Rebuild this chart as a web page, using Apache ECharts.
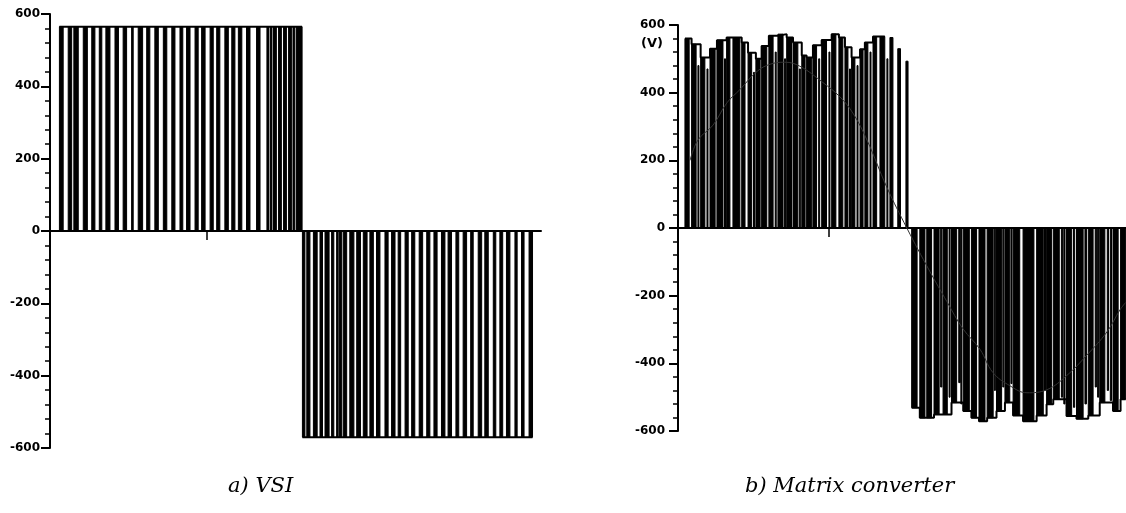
<!DOCTYPE html>
<html>
<head>
<meta charset="utf-8">
<script src="https://cdn.jsdelivr.net/npm/echarts@6/dist/echarts.min.js"></script>
<style>
  html, body { margin: 0; padding: 0; background: #fff; }
  #chart { width: 1126px; height: 513px; }
</style>
</head>
<body>
<div id="chart"></div>
<script>
// time in ms, voltage in V

// a) VSI: pulse [start, end] at the dc level
var vsiPosLevel = 565;
var vsiNegLevel = -570;
var vsiPosPulses = [
  [0.30, 0.42], [0.58, 0.69], [0.76, 0.90], [1.06, 1.19], [1.33, 1.43],
  [1.57, 1.65], [1.78, 1.91], [2.07, 2.18], [2.33, 2.44], [2.60, 2.65],
  [2.81, 2.95], [3.08, 3.18], [3.34, 3.45], [3.61, 3.72], [3.88, 3.98],
  [4.14, 4.23], [4.35, 4.46], [4.62, 4.72], [4.83, 4.94], [5.10, 5.20],
  [5.31, 5.41], [5.57, 5.68], [5.79, 5.89], [6.00, 6.11], [6.26, 6.37],
  [6.58, 6.69], [6.91, 6.96], [7.01, 7.07], [7.12, 7.21], [7.28, 7.37],
  [7.44, 7.53], [7.60, 7.69], [7.74, 7.80], [7.85, 8.03]
];
var vsiNegPulses = [
  [8.04, 8.12], [8.18, 8.28], [8.39, 8.51], [8.60, 8.68], [8.76, 8.89],
  [8.97, 9.04], [9.13, 9.18], [9.22, 9.29], [9.34, 9.45], [9.55, 9.68],
  [9.77, 9.89], [9.98, 10.10], [10.19, 10.30], [10.40, 10.51], [10.67, 10.77],
  [10.88, 10.99], [11.09, 11.17], [11.31, 11.41], [11.52, 11.62], [11.76, 11.87],
  [12.00, 12.10], [12.23, 12.33], [12.47, 12.58], [12.68, 12.79], [12.93, 13.02],
  [13.16, 13.27], [13.40, 13.48], [13.64, 13.75], [13.85, 13.96], [14.12, 14.20],
  [14.33, 14.42], [14.54, 14.65], [14.81, 14.88], [15.02, 15.10], [15.26, 15.37]
];

// b) Matrix converter: pulse [start, end, level]
var mcPosPulses = [
  [0.23, 0.37, 560], [0.45, 0.60, 543], [0.75, 0.89, 504], [1.06, 1.23, 530],
  [1.29, 1.49, 555], [1.61, 1.72, 563], [1.82, 2.05, 563], [2.11, 2.22, 548],
  [2.32, 2.44, 518], [2.58, 2.72, 500], [2.77, 2.94, 538], [3.01, 3.15, 568],
  [3.31, 3.48, 573], [3.60, 3.76, 563], [3.81, 3.97, 548], [4.10, 4.21, 510],
  [4.26, 4.43, 504], [4.47, 4.59, 540], [4.76, 4.92, 556], [5.09, 5.23, 573],
  [5.33, 5.46, 563], [5.53, 5.63, 534], [5.75, 5.86, 504], [6.03, 6.13, 528],
  [6.19, 6.29, 548], [6.46, 6.58, 566], [6.69, 6.85, 566], [7.02, 7.12, 563],
  [7.28, 7.37, 530], [7.55, 7.62, 493]
];
var mcNegPulses = [
  [7.74, 7.92, -531], [8.01, 8.18, -561], [8.24, 8.40, -561], [8.48, 8.65, -551],
  [8.78, 8.92, -551], [9.06, 9.23, -516], [9.45, 9.65, -541], [9.72, 9.89, -561],
  [9.97, 10.17, -571], [10.24, 10.44, -561], [10.55, 10.72, -541], [10.83, 10.99, -516],
  [11.10, 11.32, -554], [11.43, 11.79, -571], [11.88, 12.10, -554], [12.21, 12.37, -521],
  [12.43, 12.63, -506], [12.87, 13.04, -556], [13.20, 13.42, -564], [13.59, 13.75, -554],
  [13.97, 14.14, -516], [14.41, 14.58, -541], [14.66, 14.83, -506]
];
// narrow pulses at the middle input level, between the main ones
var mcPosInner = [
  [0.66, 0.69, 480], [0.96, 0.99, 470], [1.54, 1.57, 500], [2.50, 2.53, 460],
  [3.22, 3.25, 520], [3.53, 3.56, 500], [4.02, 4.05, 470], [4.66, 4.69, 500],
  [5.00, 5.03, 520], [5.68, 5.71, 470], [5.93, 5.96, 480], [6.36, 6.39, 520],
  [6.92, 6.95, 500]
];
var mcNegInner = [
  [8.70, 8.74, -470], [8.98, 9.01, -500], [9.30, 9.35, -457], [9.37, 9.40, -520],
  [10.48, 10.51, -480], [10.76, 10.79, -470], [11.03, 11.06, -460], [12.14, 12.17, -480],
  [12.70, 12.74, -500], [12.78, 12.82, -520], [13.10, 13.14, -530], [13.48, 13.53, -520],
  [13.82, 13.86, -470], [13.90, 13.93, -500], [14.22, 14.26, -480], [14.32, 14.36, -510]
];
// pulses in the tail of the positive half stand alone (no top line)
var mcPosJoined = 27;

// filtered fundamental of the matrix converter output
var mcFundT = [0.40, 0.66, 1.16, 1.62, 2.05, 2.62, 3.05, 3.54, 4.04, 4.80, 5.36, 5.79,
  6.26, 6.92, 7.58, 8.34, 8.91, 9.44, 10.00, 10.43, 10.99, 11.56, 12.22, 12.88,
  13.54, 14.21, 14.64, 14.83];
var mcFundV = [200, 260, 304, 370, 409, 463, 484, 490, 478, 430, 388, 340,
  260, 120, 0, -128, -218, -298, -358, -427, -466, -487, -478, -436,
  -376, -307, -242, -220];

var captions = ['a) VSI', 'b) Matrix converter'];

var chart = echarts.init(document.getElementById('chart'), null, { renderer: 'canvas' });

function withLevel(pulses, level) {
  return pulses.map(function(p) { return [p[0], p[1], level]; });
}

function stepLine(pulses) {
  var pts = [];
  pulses.forEach(function(p) { pts.push([p[0], p[2]]); });
  var last = pulses[pulses.length - 1];
  pts.push([last[1], last[2]]);
  return pts;
}

function renderPulse(params, api) {
  var top = api.coord([api.value(0), api.value(2)]);
  var bottom = api.coord([api.value(1), 0]);
  var x = Math.min(top[0], bottom[0]);
  var y = Math.min(top[1], bottom[1]);
  return {
    type: 'rect',
    shape: {
      x: x,
      y: y,
      width: Math.max(1, Math.abs(bottom[0] - top[0])),
      height: Math.abs(bottom[1] - top[1])
    },
    style: { fill: '#000', stroke: '#000', lineWidth: 1 }
  };
}

function yAxisFor(gridIndex, labelMargin) {
  return {
    type: 'value',
    gridIndex: gridIndex,
    min: -600,
    max: 600,
    interval: 200,
    splitLine: { show: false },
    axisLine: { show: true, lineStyle: { color: '#000', width: 2 } },
    axisTick: { show: true, length: 9, lineStyle: { color: '#000', width: 2 } },
    minorTick: { show: true, splitNumber: 5, length: 5, lineStyle: { color: '#000', width: 1.5 } },
    axisLabel: {
      color: '#000',
      fontFamily: 'DejaVu Sans, sans-serif',
      fontWeight: 'bold',
      fontSize: 12,
      margin: labelMargin
    }
  };
}

function xAxisFor(gridIndex, max) {
  return {
    type: 'value',
    gridIndex: gridIndex,
    min: 0,
    max: max,
    interval: 5,
    splitLine: { show: false },
    axisLine: { show: true, onZero: true, lineStyle: { color: '#000', width: 2 } },
    axisTick: { show: true, customValues: [5], length: 9, lineStyle: { color: '#000', width: 1.5 } },
    axisLabel: { show: false }
  };
}

var allA = withLevel(vsiPosPulses, vsiPosLevel).concat(withLevel(vsiNegPulses, vsiNegLevel));
var allB = mcPosPulses.concat(mcNegPulses);
var innerB = mcPosInner.concat(mcNegInner);

var option = {
  backgroundColor: '#fff',
  animation: false,
  grid: [
    { left: 50, top: 14, width: 491, height: 434 },
    { left: 678, top: 25, width: 448, height: 406 }
  ],
  xAxis: [xAxisFor(0, 15.64), xAxisFor(1, 14.84)],
  yAxis: [yAxisFor(0, 10), yAxisFor(1, 13)],
  graphic: [
    {
      type: 'text', left: 228, top: 476,
      style: { text: captions[0], fill: '#000', font: 'italic 21px "DejaVu Serif", serif' }
    },
    {
      type: 'text', left: 745, top: 476,
      style: { text: captions[1], fill: '#000', font: 'italic 21px "DejaVu Serif", serif' }
    },
    {
      type: 'text', left: 641, top: 37,
      style: { text: '(V)', fill: '#000', font: 'bold 13px "DejaVu Sans", sans-serif' }
    }
  ],
  series: [
    {
      type: 'custom', xAxisIndex: 0, yAxisIndex: 0,
      renderItem: renderPulse, encode: { x: [0, 1], y: 2 },
      data: allA, z: 3
    },
    {
      type: 'line', xAxisIndex: 0, yAxisIndex: 0, symbol: 'none',
      lineStyle: { color: '#000', width: 2 },
      data: [[vsiPosPulses[0][0], vsiPosLevel], [vsiPosPulses[vsiPosPulses.length - 1][1], vsiPosLevel]]
    },
    {
      type: 'line', xAxisIndex: 0, yAxisIndex: 0, symbol: 'none',
      lineStyle: { color: '#000', width: 2 },
      data: [[vsiNegPulses[0][0], vsiNegLevel], [vsiNegPulses[vsiNegPulses.length - 1][1], vsiNegLevel]]
    },
    {
      type: 'custom', xAxisIndex: 1, yAxisIndex: 1,
      renderItem: renderPulse, encode: { x: [0, 1], y: 2 },
      data: allB, z: 3
    },
    {
      type: 'custom', xAxisIndex: 1, yAxisIndex: 1,
      renderItem: renderPulse, encode: { x: [0, 1], y: 2 },
      data: innerB, z: 3
    },
    {
      type: 'line', xAxisIndex: 1, yAxisIndex: 1, symbol: 'none', step: 'end',
      lineStyle: { color: '#000', width: 2 },
      data: stepLine(mcPosPulses.slice(0, mcPosJoined))
    },
    {
      type: 'line', xAxisIndex: 1, yAxisIndex: 1, symbol: 'none', step: 'end',
      lineStyle: { color: '#000', width: 2 },
      data: stepLine(mcNegPulses)
    },
    {
      type: 'line', xAxisIndex: 1, yAxisIndex: 1, symbol: 'none', smooth: 0.4,
      lineStyle: { color: '#333', width: 1 }, z: 4,
      data: mcFundT.map(function(t, i) { return [t, mcFundV[i]]; })
    }
  ]
};

chart.setOption(option);
</script>
</body>
</html>
